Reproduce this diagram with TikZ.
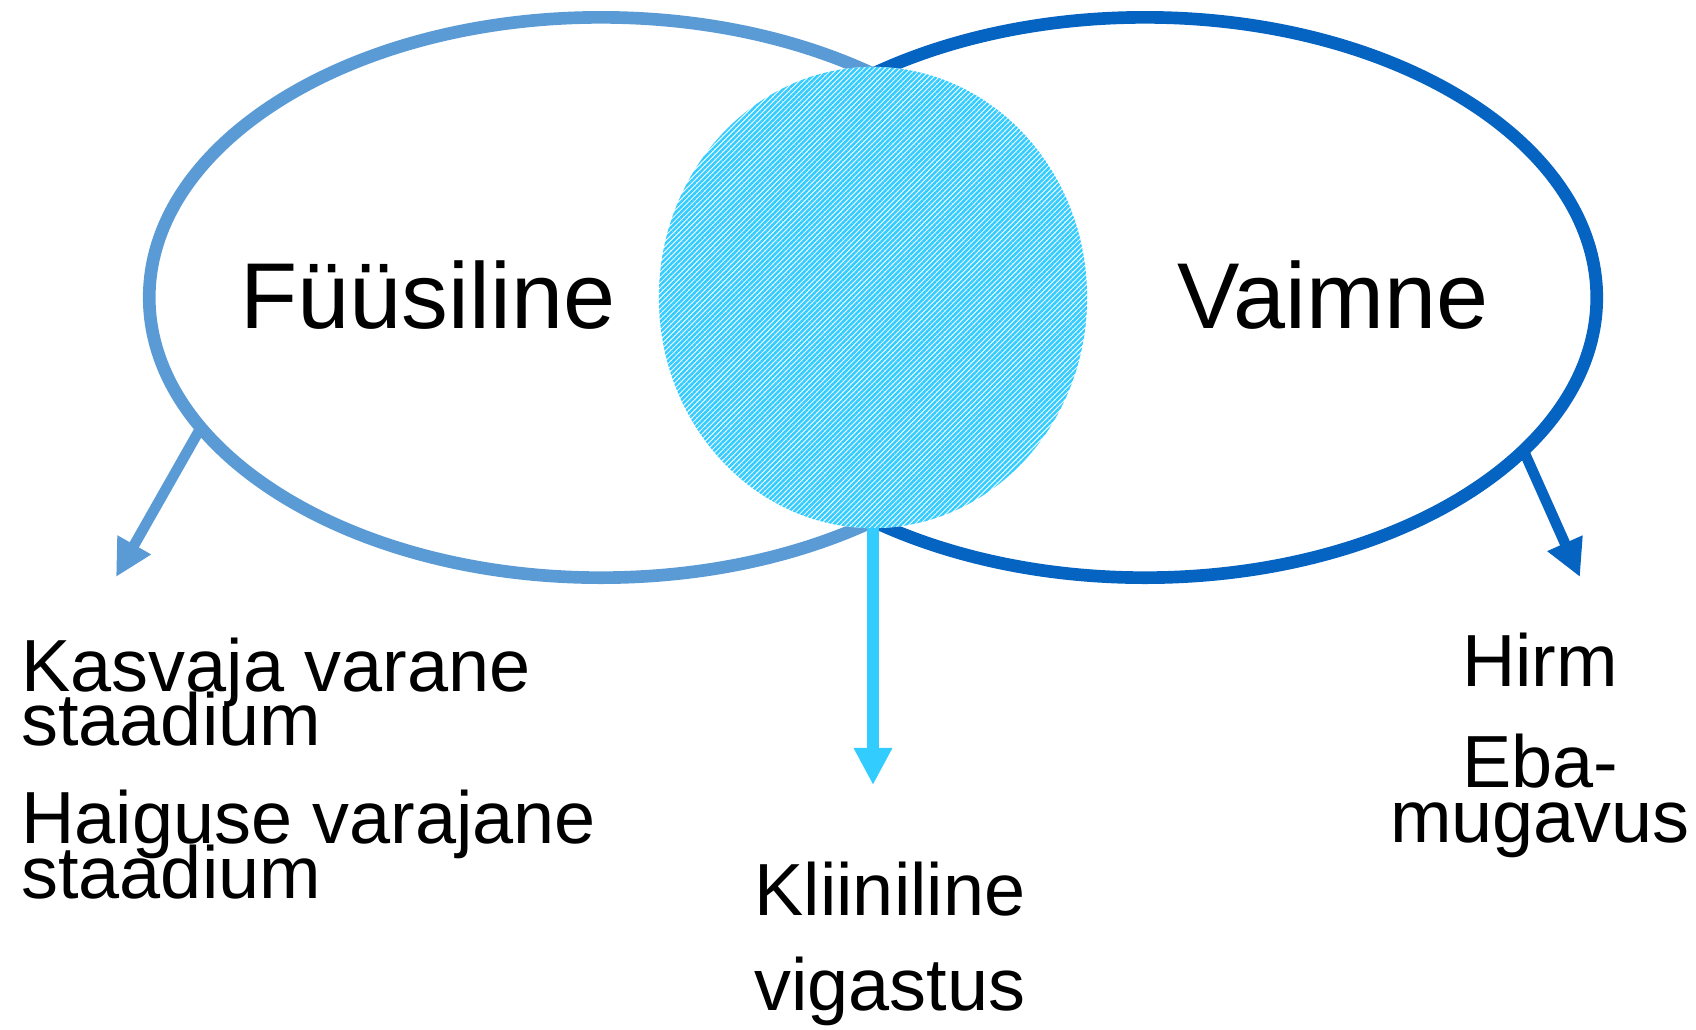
\documentclass[tikz,border=0pt]{standalone}
\usepackage{fontspec}
\setmainfont{Liberation Sans}
\usepackage{tikz}
\usetikzlibrary{shapes.geometric, arrows.meta, positioning, patterns.meta}
\definecolor{physblue}{RGB}{91,155,213}
\definecolor{mindblue}{RGB}{5,99,193}
\definecolor{hatchblue}{RGB}{51,204,255}
\newcommand{\itemfont}{\fontsize{21}{15.4}\selectfont\lineskiplimit=-30pt\relax}
\tikzset{
    setring/.style={
        ellipse,
        draw,
        line width=3.6pt,
        minimum width=9.03cm,
        minimum height=5.6cm,
        inner sep=0pt,
        outer sep=0pt
    },
    overlap/.style={
        ellipse,
        minimum width=4.28cm,
        minimum height=4.61cm,
        inner sep=0pt,
        outer sep=0pt,
        preaction={fill=white},
        pattern={Lines[angle=45, distance=1.05pt, line width=0.72pt]},
        pattern color=hatchblue
    },
    pointer/.style={
        line width=3pt,
        -{Triangle[length=0.37cm, width=0.36cm]}
    },
    settitle/.style={
        font=\fontsize{26.6}{32}\selectfont,
        inner sep=0pt
    },
    itemtext/.style={
        font=\itemfont,
        inner sep=0pt
    }
}

\begin{document}
\begin{tikzpicture}[x=0.01cm, y=-0.01cm]
\useasboundingbox (0,0) rectangle (1696,1029);

% The two sets
\node[setring, draw=physblue] (physical) at (601,297.5) {};
\node[setring, draw=mindblue] (mental) at (1145,297.5) {};

% Overlap
\node[overlap] (clinical) at (873,297.5) {};

% Set titles
\node[settitle, anchor=base] (physical_title) at (428,328) {Füüsiline};
\node[settitle, anchor=base] (mental_title) at (1333,328) {Vaimne};

% Arrow ends
\coordinate (physical_end) at (116,577);
\coordinate (clinical_end) at (873,785);
\coordinate (mental_end) at (1580,577);

% Arrows
\draw[pointer, physblue] (physical.198.6) -- (physical_end);
\draw[pointer, hatchblue, line width=3.6pt] (clinical.south) -- (clinical_end);
\draw[pointer, mindblue] (mental.338.9) -- (mental_end);

% Items (base = last line)
\node[itemtext, anchor=base west, align=left] (physical_items) at (20.7,898)
    {Kasvaja varane\\staadium\\[12.5pt]Haiguse varajane\\staadium};
\node[itemtext, anchor=base, align=center] (clinical_items) at (890,1010)
    {Kliiniline\\[11.6pt]vigastus};
\node[itemtext, anchor=base, align=center] (mental_items) at (1540,842)
    {Hirm\\[13.3pt]Eba-\\mugavus};

\end{tikzpicture}
\end{document}
